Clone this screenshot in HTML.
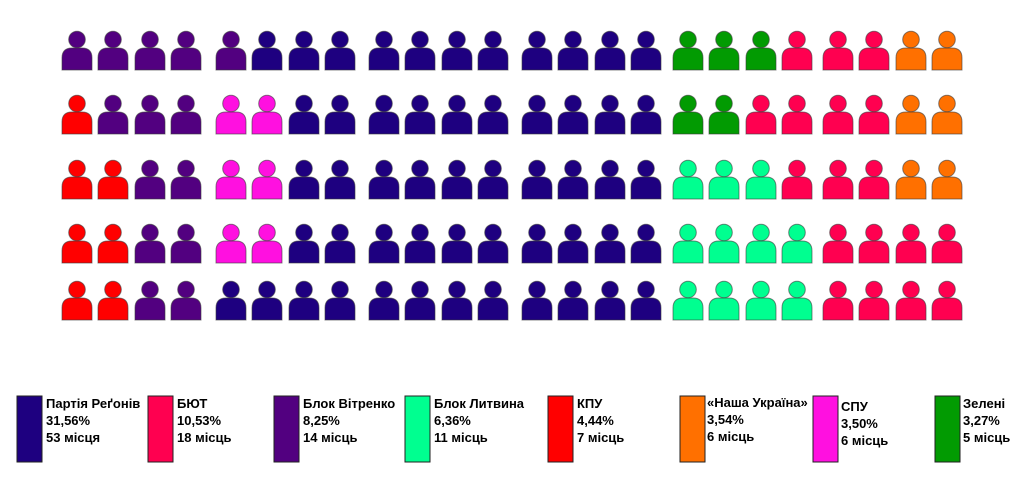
<!DOCTYPE html>
<html><head><meta charset="utf-8"><style>
body{margin:0;background:#fff;}
text{font-family:"Liberation Sans",sans-serif;font-weight:bold;font-size:13px;fill:#000;}
use{stroke:#3a3a3a;stroke-width:1;stroke-opacity:.6}
.P{fill:#520080}.R{fill:#1E0080}.G{fill:#029B02}.B{fill:#FF0050}.O{fill:#FF7000}.K{fill:#FF0000}.S{fill:#FF10E0}.L{fill:#00FF90}
</style></head><body>
<svg width="1024" height="484" xmlns="http://www.w3.org/2000/svg" xmlns:xlink="http://www.w3.org/1999/xlink">
<defs>
<g id="m"><path d="M0,39 L0,27 Q0,17 10,17 L20,17 Q30,17 30,27 L30,39 Z"/><circle cx="15" cy="8.5" r="8.3"/></g>
<g id="mid">
<use xlink:href="#m" x="369" class="R"/><use xlink:href="#m" x="405" class="R"/><use xlink:href="#m" x="442" class="R"/><use xlink:href="#m" x="478" class="R"/>
<use xlink:href="#m" x="522" class="R"/><use xlink:href="#m" x="558" class="R"/><use xlink:href="#m" x="595" class="R"/><use xlink:href="#m" x="631" class="R"/>
</g>
</defs>
<g transform="translate(0,31)">
<use xlink:href="#m" x="62" class="P"/><use xlink:href="#m" x="98" class="P"/><use xlink:href="#m" x="135" class="P"/><use xlink:href="#m" x="171" class="P"/>
<use xlink:href="#m" x="216" class="P"/><use xlink:href="#m" x="252" class="R"/><use xlink:href="#m" x="289" class="R"/><use xlink:href="#m" x="325" class="R"/>
<use xlink:href="#mid"/>
<use xlink:href="#m" x="673" class="G"/><use xlink:href="#m" x="709" class="G"/><use xlink:href="#m" x="746" class="G"/><use xlink:href="#m" x="782" class="B"/>
<use xlink:href="#m" x="823" class="B"/><use xlink:href="#m" x="859" class="B"/><use xlink:href="#m" x="896" class="O"/><use xlink:href="#m" x="932" class="O"/>
</g>
<g transform="translate(0,95)">
<use xlink:href="#m" x="62" class="K"/><use xlink:href="#m" x="98" class="P"/><use xlink:href="#m" x="135" class="P"/><use xlink:href="#m" x="171" class="P"/>
<use xlink:href="#m" x="216" class="S"/><use xlink:href="#m" x="252" class="S"/><use xlink:href="#m" x="289" class="R"/><use xlink:href="#m" x="325" class="R"/>
<use xlink:href="#mid"/>
<use xlink:href="#m" x="673" class="G"/><use xlink:href="#m" x="709" class="G"/><use xlink:href="#m" x="746" class="B"/><use xlink:href="#m" x="782" class="B"/>
<use xlink:href="#m" x="823" class="B"/><use xlink:href="#m" x="859" class="B"/><use xlink:href="#m" x="896" class="O"/><use xlink:href="#m" x="932" class="O"/>
</g>
<g transform="translate(0,160)">
<use xlink:href="#m" x="62" class="K"/><use xlink:href="#m" x="98" class="K"/><use xlink:href="#m" x="135" class="P"/><use xlink:href="#m" x="171" class="P"/>
<use xlink:href="#m" x="216" class="S"/><use xlink:href="#m" x="252" class="S"/><use xlink:href="#m" x="289" class="R"/><use xlink:href="#m" x="325" class="R"/>
<use xlink:href="#mid"/>
<use xlink:href="#m" x="673" class="L"/><use xlink:href="#m" x="709" class="L"/><use xlink:href="#m" x="746" class="L"/><use xlink:href="#m" x="782" class="B"/>
<use xlink:href="#m" x="823" class="B"/><use xlink:href="#m" x="859" class="B"/><use xlink:href="#m" x="896" class="O"/><use xlink:href="#m" x="932" class="O"/>
</g>
<g transform="translate(0,224)">
<use xlink:href="#m" x="62" class="K"/><use xlink:href="#m" x="98" class="K"/><use xlink:href="#m" x="135" class="P"/><use xlink:href="#m" x="171" class="P"/>
<use xlink:href="#m" x="216" class="S"/><use xlink:href="#m" x="252" class="S"/><use xlink:href="#m" x="289" class="R"/><use xlink:href="#m" x="325" class="R"/>
<use xlink:href="#mid"/>
<use xlink:href="#m" x="673" class="L"/><use xlink:href="#m" x="709" class="L"/><use xlink:href="#m" x="746" class="L"/><use xlink:href="#m" x="782" class="L"/>
<use xlink:href="#m" x="823" class="B"/><use xlink:href="#m" x="859" class="B"/><use xlink:href="#m" x="896" class="B"/><use xlink:href="#m" x="932" class="B"/>
</g>
<g transform="translate(0,281)">
<use xlink:href="#m" x="62" class="K"/><use xlink:href="#m" x="98" class="K"/><use xlink:href="#m" x="135" class="P"/><use xlink:href="#m" x="171" class="P"/>
<use xlink:href="#m" x="216" class="R"/><use xlink:href="#m" x="252" class="R"/><use xlink:href="#m" x="289" class="R"/><use xlink:href="#m" x="325" class="R"/>
<use xlink:href="#mid"/>
<use xlink:href="#m" x="673" class="L"/><use xlink:href="#m" x="709" class="L"/><use xlink:href="#m" x="746" class="L"/><use xlink:href="#m" x="782" class="L"/>
<use xlink:href="#m" x="823" class="B"/><use xlink:href="#m" x="859" class="B"/><use xlink:href="#m" x="896" class="B"/><use xlink:href="#m" x="932" class="B"/>
</g>
<g stroke="#222">
<rect x="17" y="396" width="25" height="66" fill="#1E0080"/>
<rect x="148" y="396" width="25" height="66" fill="#FF0050"/>
<rect x="274" y="396" width="25" height="66" fill="#520080"/>
<rect x="405" y="396" width="25" height="66" fill="#00FF90"/>
<rect x="548" y="396" width="25" height="66" fill="#FF0000"/>
<rect x="680" y="396" width="25" height="66" fill="#FF7000"/>
<rect x="813" y="396" width="25" height="66" fill="#FF10E0"/>
<rect x="935" y="396" width="25" height="66" fill="#029B02"/>
</g>
<text x="46" y="408">Партія Реґонів</text><text x="46" y="425">31,56%</text><text x="46" y="442">53 місця</text>
<text x="177" y="408">БЮТ</text><text x="177" y="425">10,53%</text><text x="177" y="442">18 місць</text>
<text x="303" y="408">Блок Вітренко</text><text x="303" y="425">8,25%</text><text x="303" y="442">14 місць</text>
<text x="434" y="408">Блок Литвина</text><text x="434" y="425">6,36%</text><text x="434" y="442">11 місць</text>
<text x="577" y="408">КПУ</text><text x="577" y="425">4,44%</text><text x="577" y="442">7 місць</text>
<text x="707" y="407">«Наша Україна»</text><text x="707" y="424">3,54%</text><text x="707" y="441">6 місць</text>
<text x="841" y="411">СПУ</text><text x="841" y="428">3,50%</text><text x="841" y="445">6 місць</text>
<text x="963" y="408">Зелені</text><text x="963" y="425">3,27%</text><text x="963" y="442">5 місць</text>
</svg>
</body></html>
